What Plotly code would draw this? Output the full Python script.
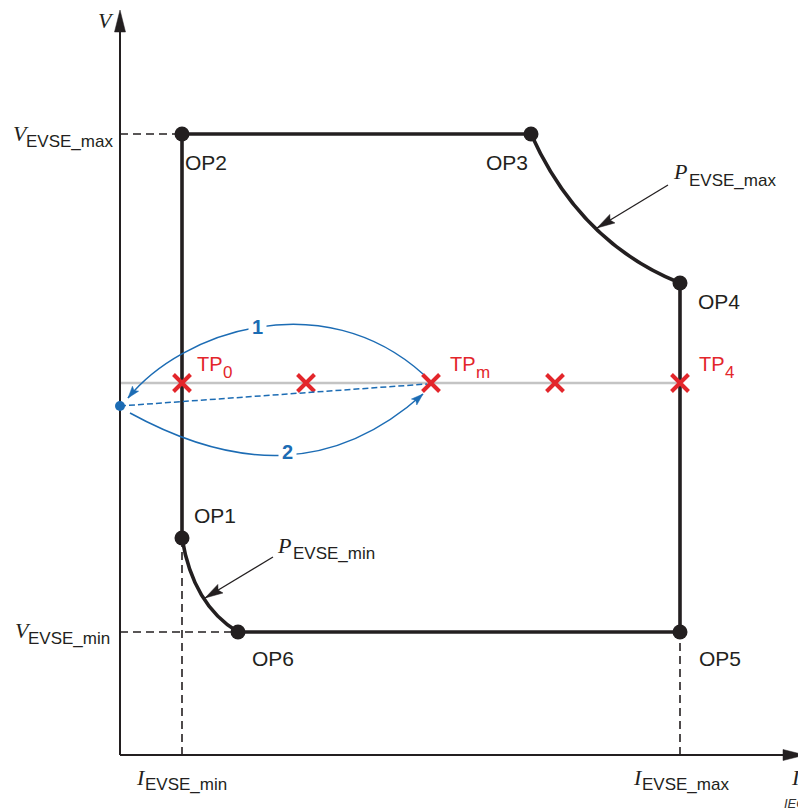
import numpy as np
import plotly.graph_objects as go

# ---------------- data (diagram units: I to the right, V upwards) ----------------
op_names = ["OP1", "OP2", "OP3", "OP4", "OP5", "OP6"]
op_I = [62, 62, 411, 560, 560, 118]
op_V = [217, 621, 621, 472, 123, 123]

I_EVSE_min = 62
I_EVSE_max = 560
V_EVSE_min = 123
V_EVSE_max = 621

tp_I = [62, 186, 311, 435, 560]
tp_V = [372, 372, 372, 372, 372]
tp_text = ["TP", "", "TP", "", "TP"]
tp_sub = ["0", "", "m", "", "4"]

start_I = [0]
start_V = [349]

# bend (control) points of the constant-power curves
pmax_ctrl = [460, 512]
pmin_ctrl = [73, 150]

# blue transition arcs: start, control1, control2, end
arc1_I = [303, 203, 62, 8]
arc1_V = [381, 471, 424, 357]
arc2_I = [10, 116, 214, 303]
arc2_V = [342, 284, 281, 361]
arc_labels = ["1", "2"]
arc_label_I = [137, 167]
arc_label_V = [428, 303]

# pointer arrows for the power labels (from, to)
pmax_ptr_I = [548, 477]
pmax_ptr_V = [570, 527]
pmin_ptr_I = [153, 85]
pmin_ptr_V = [198, 157]

# axis extents
I_axis_end = 685
V_axis_end = 745

# ---------------- styling ----------------
WIN_W, WIN_H = 806, 812
BODY = 8                     # default page margin around the figure
W, H = WIN_W - BODY, WIN_H - BODY
ORIGIN_PX = (120, 755)       # origin in window pixels
BLACK = "#231f20"
RED = "#e3262b"
BLUE = "#1c6cb4"
GREY = "#c4c4c4"
SANS = "Liberation Sans, Arial, sans-serif"
SERIF = "Liberation Serif, Times New Roman, serif"


def to_data(px, py):
    return px - ORIGIN_PX[0], ORIGIN_PX[1] - py


def head_path(tip, frm, L, Wd, notch=1.0):
    t = np.array(tip, float)
    f = np.array(frm, float)
    d = (t - f) / np.linalg.norm(t - f)
    n = np.array([-d[1], d[0]])
    base = t - L * d
    c1 = base + Wd / 2 * n
    c2 = base - Wd / 2 * n
    nb = t - notch * L * d
    return (f"M {t[0]:.2f},{t[1]:.2f} L {c1[0]:.2f},{c1[1]:.2f} "
            f"L {nb[0]:.2f},{nb[1]:.2f} L {c2[0]:.2f},{c2[1]:.2f} Z")


fig = go.Figure()
shapes = []

# dashed guide lines
dash = dict(color=BLACK, width=1.6, dash="8px,5px")
shapes.append(dict(type="line", x0=0, x1=I_EVSE_min, y0=V_EVSE_max, y1=V_EVSE_max, line=dash, layer="below"))
shapes.append(dict(type="line", x0=0, x1=op_I[5], y0=V_EVSE_min, y1=V_EVSE_min, line=dash, layer="below"))
shapes.append(dict(type="line", x0=I_EVSE_min, x1=I_EVSE_min, y0=0, y1=op_V[0], line=dash, layer="below"))
shapes.append(dict(type="line", x0=I_EVSE_max, x1=I_EVSE_max, y0=0, y1=op_V[4], line=dash, layer="below"))

# grey test-point line
shapes.append(dict(type="line", x0=0, x1=tp_I[-1], y0=tp_V[0], y1=tp_V[0],
                   line=dict(color=GREY, width=2.5), layer="below"))

# operating envelope
p = {n: (i, v) for n, i, v in zip(op_names, op_I, op_V)}
env = (f"M {p['OP2'][0]},{p['OP2'][1]} L {p['OP3'][0]},{p['OP3'][1]} "
       f"Q {pmax_ctrl[0]},{pmax_ctrl[1]} {p['OP4'][0]},{p['OP4'][1]} "
       f"L {p['OP5'][0]},{p['OP5'][1]} L {p['OP6'][0]},{p['OP6'][1]} "
       f"Q {pmin_ctrl[0]},{pmin_ctrl[1]} {p['OP1'][0]},{p['OP1'][1]} Z")
shapes.append(dict(type="path", path=env, line=dict(color=BLACK, width=3.6), layer="below"))

# axes with arrow heads
AX_L, AX_W = 22, 11
shapes.append(dict(type="line", x0=0, x1=0, y0=0, y1=V_axis_end - AX_L + 2,
                   line=dict(color=BLACK, width=2), layer="below"))
shapes.append(dict(type="line", x0=0, x1=I_axis_end - AX_L + 2, y0=0, y1=0,
                   line=dict(color=BLACK, width=2), layer="below"))
shapes.append(dict(type="path", path=head_path((0, V_axis_end), (0, 0), AX_L, AX_W),
                   fillcolor=BLACK, line=dict(color=BLACK, width=0.5), layer="below"))
shapes.append(dict(type="path", path=head_path((I_axis_end, 0), (0, 0), AX_L, AX_W),
                   fillcolor=BLACK, line=dict(color=BLACK, width=0.5), layer="below"))

# blue transition arcs
for ai, av in ((arc1_I, arc1_V), (arc2_I, arc2_V)):
    path = (f"M {ai[0]},{av[0]} C {ai[1]},{av[1]} {ai[2]},{av[2]} {ai[3]},{av[3]}")
    shapes.append(dict(type="path", path=path, line=dict(color=BLUE, width=1.5)))
    shapes.append(dict(type="path", path=head_path((ai[3], av[3]), (ai[2], av[2]), 12, 8, 0.8),
                       fillcolor=BLUE, line=dict(color=BLUE, width=0.5)))
# dashed direct path
shapes.append(dict(type="line", x0=start_I[0], y0=start_V[0], x1=tp_I[2] - 4, y1=tp_V[2] - 1,
                   line=dict(color=BLUE, width=1.5, dash="6px,3px")))

# pointers for power curve labels
for pi, pv in ((pmax_ptr_I, pmax_ptr_V), (pmin_ptr_I, pmin_ptr_V)):
    shapes.append(dict(type="line", x0=pi[0], y0=pv[0], x1=pi[1], y1=pv[1],
                       line=dict(color=BLACK, width=1.3)))
    shapes.append(dict(type="path", path=head_path((pi[1], pv[1]), (pi[0], pv[0]), 18, 10, 0.85),
                       fillcolor=BLACK, line=dict(color=BLACK, width=0.5)))

# traces: operating points, test points, start point
fig.add_trace(go.Scatter(x=op_I, y=op_V, mode="markers",
                         marker=dict(size=15, color=BLACK), hoverinfo="skip"))
fig.add_trace(go.Scatter(x=tp_I, y=tp_V, mode="markers",
                         marker=dict(symbol="x-thin", size=17, line=dict(color=RED, width=4)),
                         hoverinfo="skip"))
fig.add_trace(go.Scatter(x=start_I, y=start_V, mode="markers",
                         marker=dict(size=10, color=BLUE), hoverinfo="skip"))

ann = []
# operating-point labels: (xanchor, xshift, yshift)
op_lab = {"OP1": ("left", 10, 23), "OP2": ("left", 1, -28), "OP3": ("right", -1, -28),
          "OP4": ("left", 16, -18), "OP5": ("left", 17, -26), "OP6": ("left", 12, -26)}
for n, i, v in zip(op_names, op_I, op_V):
    xa, xs, ys = op_lab[n]
    ann.append(dict(x=i, y=v, text=n, showarrow=False, xanchor=xa, yanchor="middle",
                    xshift=xs, yshift=ys, font=dict(family=SANS, size=21, color=BLACK)))
# test-point labels (main text + larger subscript as separate texts)
for k, (i, v, t, s) in enumerate(zip(tp_I, tp_V, tp_text, tp_sub)):
    if t:
        xs = 13 if k == 0 else 17
        ann.append(dict(x=i, y=v, text=t, showarrow=False, xanchor="left", yanchor="middle",
                        xshift=xs, yshift=19, font=dict(family=SANS, size=20, color=RED)))
        ann.append(dict(x=i, y=v, text=s, showarrow=False, xanchor="left", yanchor="middle",
                        xshift=xs + 26, yshift=11, font=dict(family=SANS, size=17, color=RED)))
# arc numbers
for t, i, v in zip(arc_labels, arc_label_I, arc_label_V):
    ann.append(dict(x=i, y=v, text=f"<b>{t}</b>", showarrow=False, bgcolor="white", borderpad=3,
                    font=dict(family=SANS, size=20, color=BLUE)))


def sym_label(letter, sub, lx_px, ly_px, sx_px, sy_px, anchor="left"):
    x, y = to_data(lx_px, ly_px)
    ann.append(dict(x=x, y=y, text=f"<i>{letter}</i>", showarrow=False, xanchor=anchor,
                    yanchor="middle", font=dict(family=SERIF, size=22, color=BLACK)))
    if sub:
        x, y = to_data(sx_px, sy_px)
        ann.append(dict(x=x, y=y, text=sub, showarrow=False, xanchor="left",
                        yanchor="middle", font=dict(family=SANS, size=17, color=BLACK)))


sym_label("V", "EVSE_max", 11, 133, 24, 141)
sym_label("V", "EVSE_min", 13, 630, 26, 638)
sym_label("I", "EVSE_min", 134, 777, 143, 784)
sym_label("I", "EVSE_max", 631, 777, 640, 784)
sym_label("P", "EVSE_max", 671, 171, 687, 180)
sym_label("P", "EVSE_min", 275, 545, 291, 553)
sym_label("V", "", 96, 20, 0, 0)
sym_label("I", "", 803, 777, 0, 0, anchor="right")
x_iec, y_iec = to_data(782, 803)
ann.append(dict(x=x_iec, y=y_iec, text="<i>IEC</i>", showarrow=False, xanchor="left",
                yanchor="middle", font=dict(family=SANS, size=13, color="#333333")))

fig.update_layout(
    width=W, height=H, autosize=False,
    margin=dict(l=0, r=0, t=0, b=0, pad=0),
    paper_bgcolor="white", plot_bgcolor="white",
    showlegend=False, shapes=shapes, annotations=ann,
    xaxis=dict(range=[BODY - ORIGIN_PX[0], WIN_W - ORIGIN_PX[0]], visible=False, fixedrange=True),
    yaxis=dict(range=[ORIGIN_PX[1] - WIN_H, ORIGIN_PX[1] - BODY], visible=False, fixedrange=True),
)

fig.write_html("out.html")
